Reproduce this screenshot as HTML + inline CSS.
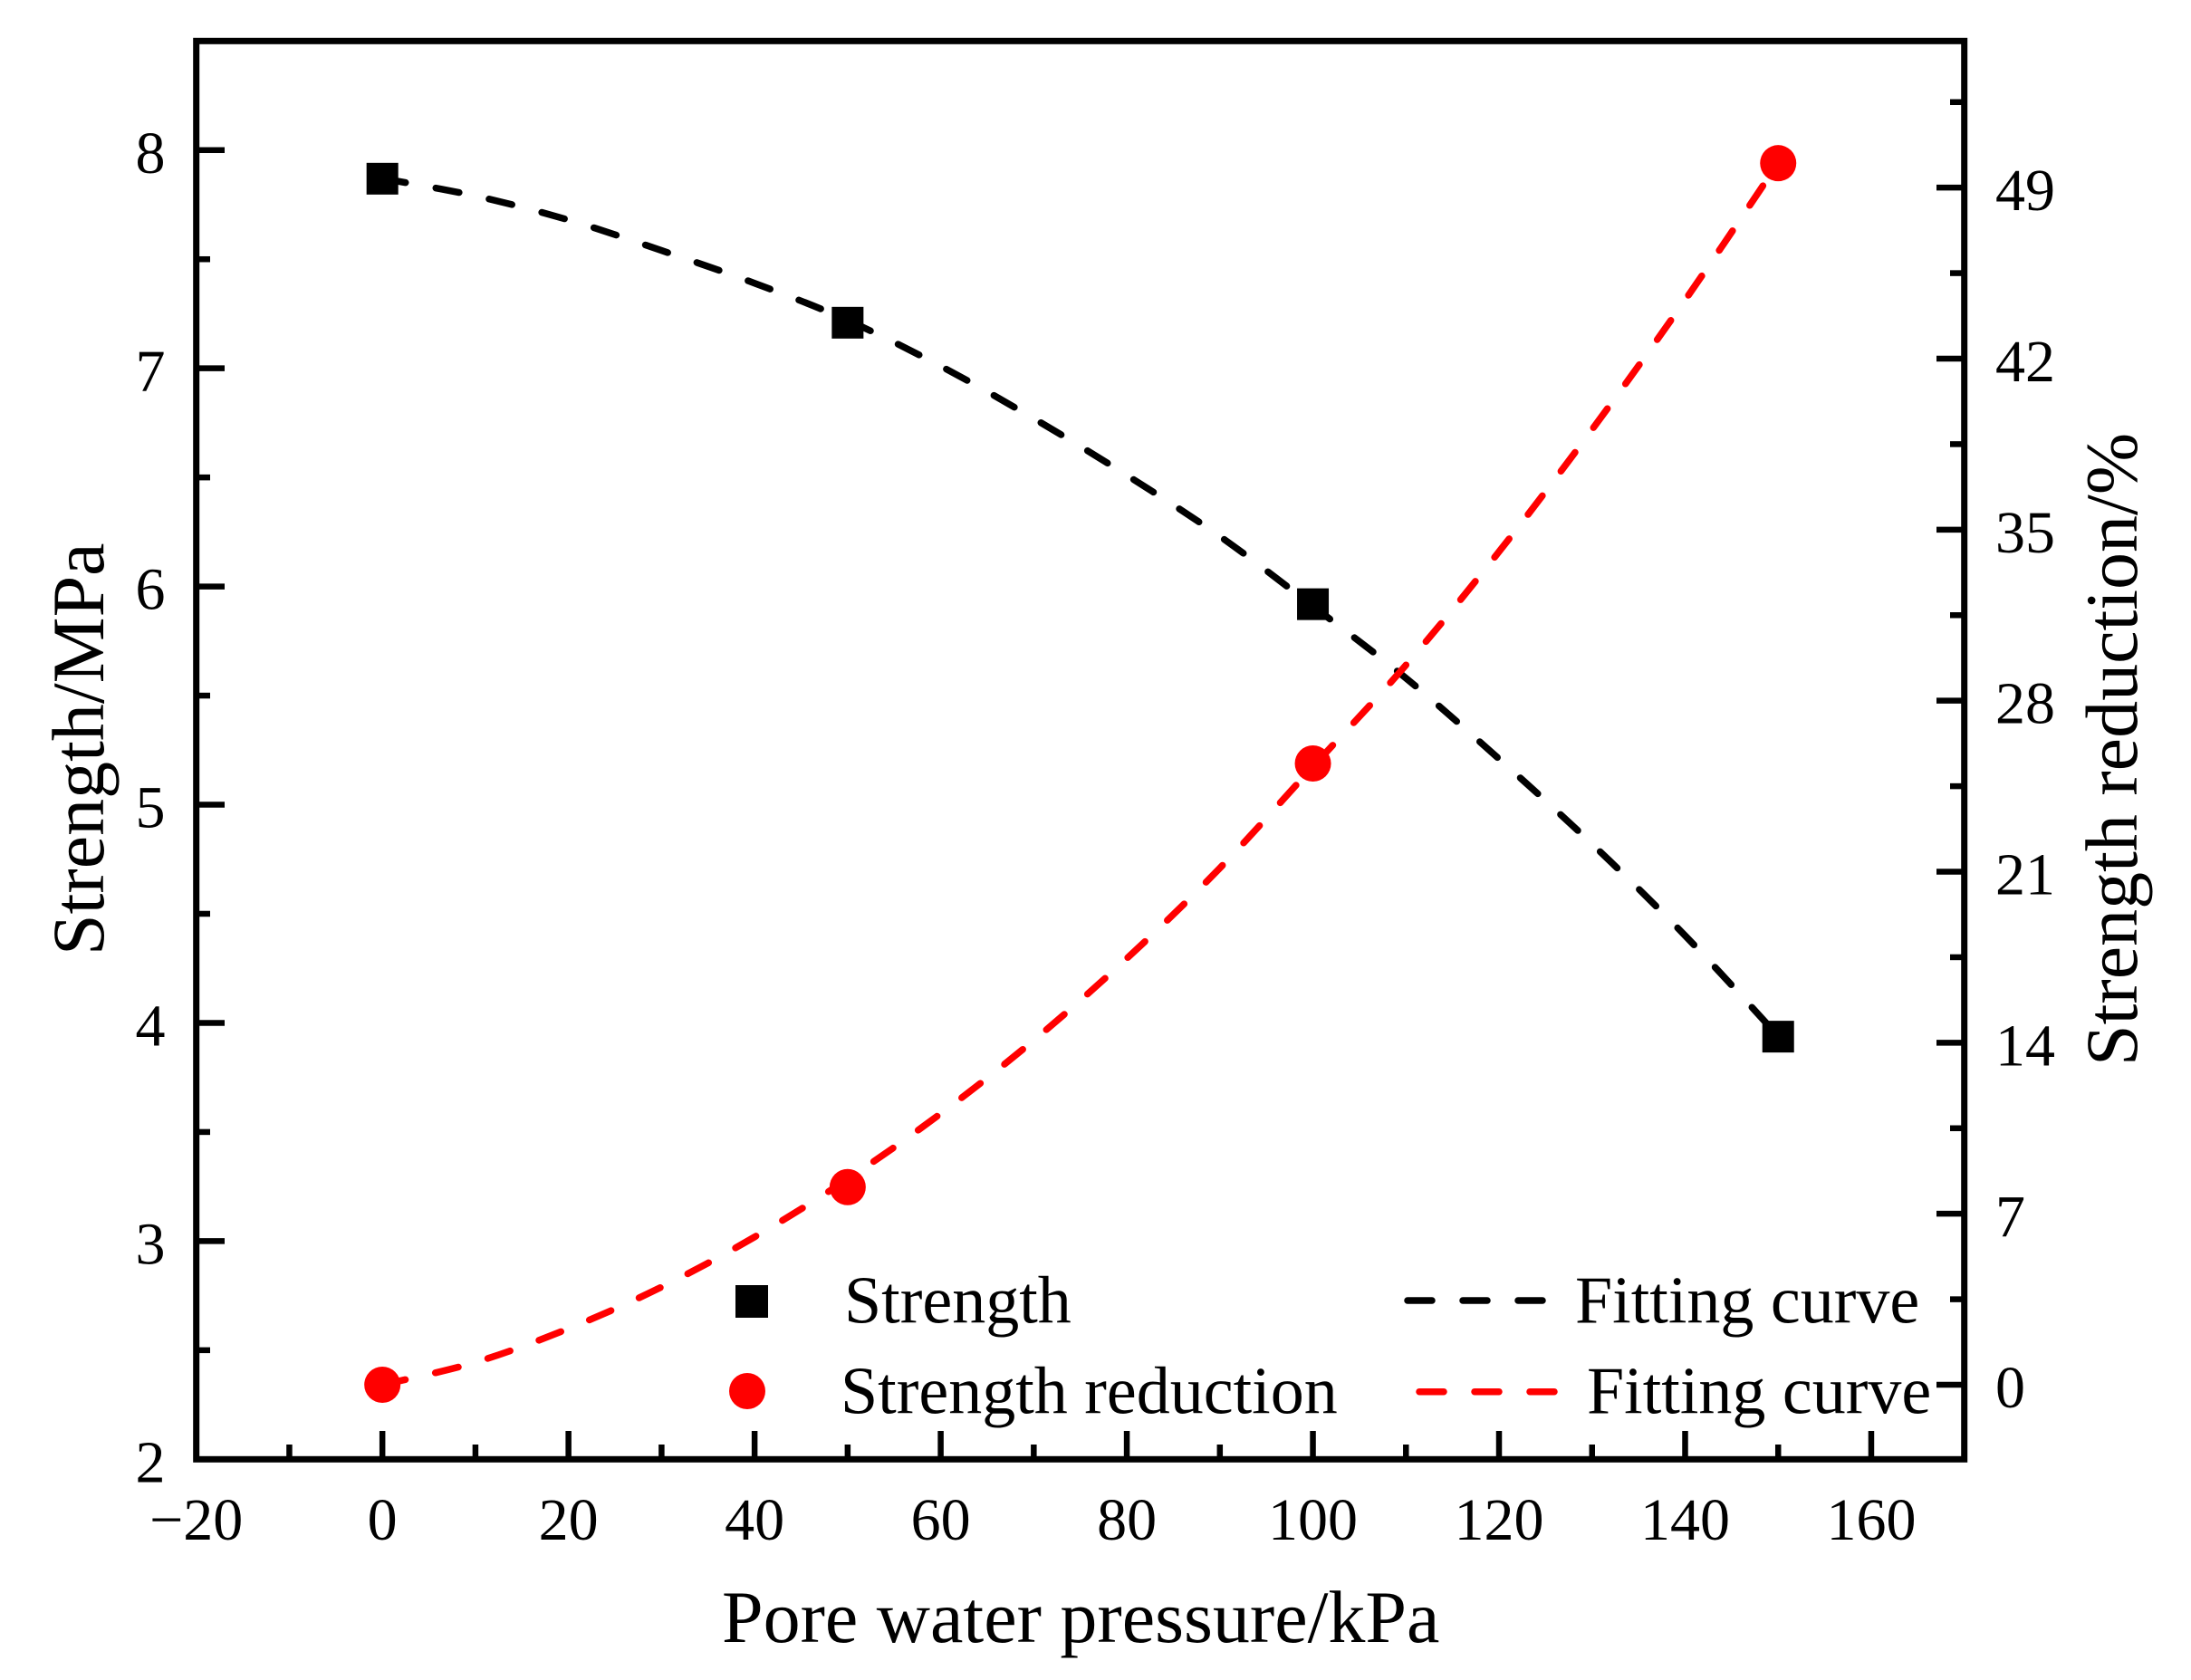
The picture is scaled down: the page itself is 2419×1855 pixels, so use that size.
<!DOCTYPE html>
<html lang="en">
<head>
<meta charset="utf-8">
<title>Strength and strength reduction vs pore water pressure</title>
<style>
  html, body { margin: 0; padding: 0; background: #fff; }
  svg { display: block; }
  text { font-family: "Liberation Serif", serif; fill: #000; }
</style>
</head>
<body>
<svg id="chart" xmlns="http://www.w3.org/2000/svg" width="2419" height="1855" viewBox="0 0 2419 1855">
  <rect x="0" y="0" width="2419" height="1855" fill="#fff"/>
  <g id="marks"></g>
  <g id="axes"></g>

  <text x="797" y="1813" font-size="82">Pore water pressure/kPa</text>
  <text transform="translate(114 1055) rotate(-90)" font-size="82">Strength/MPa</text>
  <text transform="translate(2359 1177) rotate(-90)" font-size="82">Strength reduction/%</text>

  <g>
    <rect x="812" y="1419" width="36" height="36" fill="#000"/>
    <text x="932" y="1460.5" font-size="74">Strength</text>
    <circle cx="825" cy="1536" r="20" fill="#f00"/>
    <text x="928" y="1560.5" font-size="74">Strength reduction</text>
    <line x1="1554" y1="1436" x2="1704" y2="1436" stroke="#000" stroke-width="7.5" stroke-linecap="round" stroke-dasharray="27 34"/>
    <text x="1739" y="1460.5" font-size="74">Fitting curve</text>
    <line x1="1567" y1="1536.7" x2="1717" y2="1536.7" stroke="#f00" stroke-width="7.5" stroke-linecap="round" stroke-dasharray="27 34"/>
    <text x="1752" y="1560.5" font-size="74">Fitting curve</text>
  </g>
</svg>

<script>
const pressure = [0, 50, 100, 150];
const strength = [7.869, 7.209, 5.919, 3.937];
const reduction = [0, 8.09, 25.43, 50];

const fitPressure = [0, 10, 20, 30, 40, 50, 60, 70, 80, 90, 100, 110, 120, 130, 140, 150];
const strengthFit = [7.87, 7.79, 7.68, 7.54, 7.39, 7.22, 7.01, 6.77, 6.51, 6.23, 5.91, 5.58, 5.21, 4.82, 4.40, 3.94];
const reductionFit = [0, 0.92, 2.30, 4.00, 6.05, 8.42, 11.1, 14.1, 17.45, 21.15, 25.30, 29.46, 34.1, 39.1, 44.4, 50];

const xMajorTicks = [-20, 0, 20, 40, 60, 80, 100, 120, 140, 160];
const xMinorTicks = [-10, 10, 30, 50, 70, 90, 110, 130, 150];
const xTickLabels = ['\u221220', '0', '20', '40', '60', '80', '100', '120', '140', '160'];
const leftMajorTicks = [2, 3, 4, 5, 6, 7, 8];
const leftMinorTicks = [2.5, 3.5, 4.5, 5.5, 6.5, 7.5];
const leftTickLabels = ['2', '3', '4', '5', '6', '7', '8'];
const rightMajorTicks = [0, 7, 14, 21, 28, 35, 42, 49];
const rightMinorTicks = [3.5, 10.5, 17.5, 24.5, 31.5, 38.5, 45.5, 52.5];
const rightTickLabels = ['0', '7', '14', '21', '28', '35', '42', '49'];

const xDomain = [-20, 170];
const leftDomain = [2, 8.5];
const rightDomain = [-3.05, 55];
const plot = { left: 216.7, right: 2168.7, top: 45.3, bottom: 1611.3 };

function xScale(v) {
  return plot.left + (v - xDomain[0]) / (xDomain[1] - xDomain[0]) * (plot.right - plot.left);
}
function leftScale(v) {
  return plot.bottom - (v - leftDomain[0]) / (leftDomain[1] - leftDomain[0]) * (plot.bottom - plot.top);
}
function rightScale(v) {
  return plot.bottom - (v - rightDomain[0]) / (rightDomain[1] - rightDomain[0]) * (plot.bottom - plot.top);
}

const NS = 'http://www.w3.org/2000/svg';
function make(tag, parent, props) {
  const el = document.createElementNS(NS, tag);
  for (const k in props) el.setAttribute(k, props[k]);
  parent.appendChild(el);
  return el;
}
function smoothPath(xs, ys) {
  const pts = xs.map((x, i) => [xScale(x), ys[i]]);
  let d = 'M' + pts[0][0].toFixed(2) + ' ' + pts[0][1].toFixed(2);
  for (let i = 0; i < pts.length - 1; i++) {
    const p0 = pts[Math.max(i - 1, 0)], p1 = pts[i], p2 = pts[i + 1], p3 = pts[Math.min(i + 2, pts.length - 1)];
    const c1x = p1[0] + (p2[0] - p0[0]) / 6, c1y = p1[1] + (p2[1] - p0[1]) / 6;
    const c2x = p2[0] - (p3[0] - p1[0]) / 6, c2y = p2[1] - (p3[1] - p1[1]) / 6;
    d += 'C' + c1x.toFixed(2) + ' ' + c1y.toFixed(2) + ' ' + c2x.toFixed(2) + ' ' + c2y.toFixed(2) + ' ' + p2[0].toFixed(2) + ' ' + p2[1].toFixed(2);
  }
  return d;
}

const marks = document.getElementById('marks');
const axes = document.getElementById('axes');

const strengthLine = make('path', marks, { d: smoothPath(fitPressure, strengthFit.map(leftScale)), fill: 'none', stroke: '#000', 'stroke-width': 7.5, 'stroke-linecap': 'round', 'stroke-dasharray': '26 34' });



const reductionLine = make('path', marks, { d: smoothPath(fitPressure, reductionFit.map(rightScale)), fill: 'none', stroke: '#f00', 'stroke-width': 7.5, 'stroke-linecap': 'round', 'stroke-dasharray': '26 34' });



pressure.forEach((p, i) => {
  const square = make('rect', marks, { x: xScale(p) - 17.5, y: leftScale(strength[i]) - 17.5, width: 35, height: 35, fill: '#000' });
  
  
  const dot = make('circle', marks, { cx: xScale(p), cy: rightScale(reduction[i]), r: 20, fill: '#f00' });
  
  
});

const frame = make('rect', axes, { x: plot.left, y: plot.top, width: plot.right - plot.left, height: plot.bottom - plot.top, fill: 'none', stroke: '#000', 'stroke-width': 7 });



xMajorTicks.forEach((v, i) => {
  const t = make('line', axes, { x1: xScale(v), x2: xScale(v), y1: plot.bottom, y2: 1580, stroke: '#000', 'stroke-width': 6.5 });
  
  
  const l = make('text', axes, { x: xScale(v), y: 1700, 'text-anchor': 'middle', 'font-size': 66 });
  l.textContent = xTickLabels[i];
  
  
});
xMinorTicks.forEach(v => {
  const t = make('line', axes, { x1: xScale(v), x2: xScale(v), y1: plot.bottom, y2: 1595, stroke: '#000', 'stroke-width': 6.5 });
  
  
});
leftMajorTicks.forEach((v, i) => {
  const t = make('line', axes, { x1: plot.left, x2: 248, y1: leftScale(v), y2: leftScale(v), stroke: '#000', 'stroke-width': 6.5 });
  
  
  const l = make('text', axes, { x: 166, y: leftScale(v) + 25, 'text-anchor': 'middle', 'font-size': 66 });
  l.textContent = leftTickLabels[i];
  
  
});
leftMinorTicks.forEach(v => {
  const t = make('line', axes, { x1: plot.left, x2: 232, y1: leftScale(v), y2: leftScale(v), stroke: '#000', 'stroke-width': 6.5 });
  
  
});
rightMajorTicks.forEach((v, i) => {
  const t = make('line', axes, { x1: plot.right, x2: 2138, y1: rightScale(v), y2: rightScale(v), stroke: '#000', 'stroke-width': 6.5 });
  
  
  const l = make('text', axes, { x: 2203, y: rightScale(v) + 25, 'font-size': 66 });
  l.textContent = rightTickLabels[i];
  
  
});
rightMinorTicks.forEach(v => {
  const t = make('line', axes, { x1: plot.right, x2: 2153, y1: rightScale(v), y2: rightScale(v), stroke: '#000', 'stroke-width': 6.5 });
  
  
});
</script>
</body>
</html>
